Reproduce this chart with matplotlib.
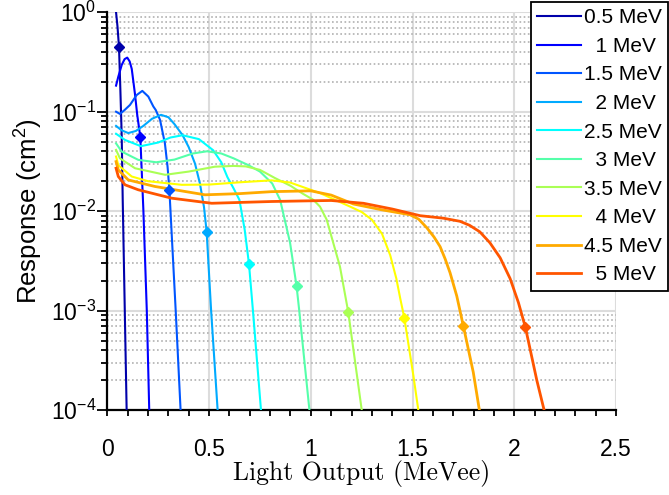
import matplotlib
matplotlib.use("Agg")
import matplotlib.pyplot as plt
from matplotlib.ticker import LogLocator, MultipleLocator, NullFormatter

plt.rcParams['font.family'] = ['Liberation Sans', 'DejaVu Sans']
plt.rcParams['mathtext.fontset'] = 'custom'
plt.rcParams['mathtext.rm'] = 'Liberation Sans'
plt.rcParams['mathtext.it'] = 'Liberation Sans:italic'

# neutron energies (MeV)
energies = [0.5, 1, 1.5, 2, 2.5, 3, 3.5, 4, 4.5, 5]
colors = ['#0000AA', '#0000FF', '#0055FF', '#00AAFF', '#00FFFF',
          '#55FFAA', '#AAFF55', '#FFFF00', '#FFAA00', '#FF5500']

# response curves: light output (MeVee), response (cm^2)
x_05 = [0.043, 0.050, 0.0575, 0.064, 0.0707, 0.0757, 0.095]
y_05 = [1.0, 0.72, 0.445, 0.17, 0.058, 0.013, 1e-4]

x_10 = [0.043, 0.054, 0.071, 0.085, 0.098, 0.110, 0.120, 0.136, 0.147, 0.162, 0.177, 0.194, 0.206]
y_10 = [0.183, 0.225, 0.296, 0.338, 0.35, 0.32, 0.27, 0.15, 0.093, 0.056, 0.0105, 0.001, 1e-4]

x_15 = [0.043, 0.062, 0.085, 0.1115, 0.144, 0.172, 0.2015, 0.226, 0.238, 0.259, 0.283, 0.296, 0.305, 0.336, 0.36]
y_15 = [0.1, 0.095, 0.104, 0.117, 0.147, 0.162, 0.142, 0.113, 0.104, 0.083, 0.048, 0.028, 0.0164, 0.001, 1e-4]

x_20 = [0.043, 0.07, 0.103, 0.14, 0.177, 0.22, 0.264, 0.30, 0.33, 0.37, 0.40, 0.431, 0.455, 0.475, 0.488, 0.51, 0.542]
y_20 = [0.072, 0.065, 0.061, 0.064, 0.072, 0.085, 0.093, 0.088, 0.075, 0.058, 0.044, 0.030, 0.019, 0.011, 0.00624, 0.001, 1e-4]

x_25 = [0.043, 0.087, 0.165, 0.25, 0.31, 0.37, 0.45, 0.52, 0.56, 0.59, 0.62, 0.649, 0.675, 0.696, 0.7155, 0.755]
y_25 = [0.06, 0.052, 0.045, 0.049, 0.055, 0.058, 0.053, 0.041, 0.031, 0.022, 0.017, 0.013, 0.0065, 0.00295, 0.001, 1e-4]

x_30 = [0.043, 0.071, 0.152, 0.24, 0.33, 0.42, 0.49, 0.56, 0.62, 0.693, 0.75, 0.81, 0.849, 0.898, 0.93, 0.943, 0.993]
y_30 = [0.048, 0.0397, 0.0328, 0.031, 0.033, 0.038, 0.040, 0.038, 0.034, 0.029, 0.025, 0.019, 0.013, 0.0048, 0.00175, 0.001, 1e-4]

x_35 = [0.043, 0.062, 0.136, 0.284, 0.40, 0.529, 0.62, 0.68, 0.75, 0.824, 0.90, 0.96, 1.012, 1.045, 1.078, 1.143, 1.184, 1.25]
y_35 = [0.0413, 0.034, 0.027, 0.0232, 0.025, 0.028, 0.0285, 0.0282, 0.026, 0.0215, 0.018, 0.015, 0.013, 0.0111, 0.0082, 0.00277, 0.00096, 1e-4]

x_40 = [0.043, 0.054, 0.12, 0.2, 0.366, 0.5, 0.65, 0.807, 0.898, 1.045, 1.193, 1.25, 1.30, 1.35, 1.39, 1.42, 1.44, 1.459, 1.504, 1.528]
y_40 = [0.0354, 0.029, 0.0223, 0.020, 0.0184, 0.0185, 0.0195, 0.0204, 0.0194, 0.0152, 0.0111, 0.0098, 0.0082, 0.0059, 0.0036, 0.0021, 0.0013, 0.00085, 0.00022, 1e-4]

x_45 = [0.043, 0.054, 0.103, 0.234, 0.48, 0.65, 0.807, 1.0, 1.1, 1.209, 1.35, 1.487, 1.53, 1.57, 1.605, 1.635, 1.66, 1.684, 1.717, 1.749, 1.798, 1.828]
y_45 = [0.0315, 0.026, 0.0206, 0.0177, 0.0146, 0.015, 0.0157, 0.016, 0.0145, 0.0118, 0.0103, 0.0092, 0.0083, 0.0068, 0.0055, 0.0044, 0.0033, 0.0024, 0.0014, 0.000703, 0.00024, 1e-4]

x_50 = [0.043, 0.054, 0.087, 0.152, 0.316, 0.513, 0.807, 0.996, 1.1, 1.258, 1.4, 1.537, 1.65, 1.733, 1.78, 1.83, 1.88, 1.93, 1.979, 2.02, 2.054, 2.11, 2.146]
y_50 = [0.027, 0.0223, 0.0184, 0.0164, 0.0135, 0.012, 0.0125, 0.0127, 0.0128, 0.012, 0.0105, 0.009, 0.0085, 0.0079, 0.0072, 0.0062, 0.0048, 0.0034, 0.0021, 0.0012, 0.00068, 0.0002, 1e-4]

curves_x = [x_05, x_10, x_15, x_20, x_25, x_30, x_35, x_40, x_45, x_50]
curves_y = [y_05, y_10, y_15, y_20, y_25, y_30, y_35, y_40, y_45, y_50]

# diamond markers on each curve
mark_x = [0.0575, 0.162, 0.305, 0.488, 0.696, 0.93, 1.184, 1.459, 1.749, 2.054]
mark_y = [0.445, 0.056, 0.0164, 0.00624, 0.00295, 0.00175, 0.00096, 0.00085, 0.000703, 0.00068]

fig = plt.figure(figsize=(6.69, 4.95), dpi=100)
ax = fig.add_axes([0.1604, 0.1717, 0.7606, 0.8035])

for i, e in enumerate(energies):
    lw = 1.5 if e < 4.5 else 2.0
    ax.plot(curves_x[i], curves_y[i], color=colors[i], lw=lw,
            label='%3g MeV' % e, zorder=3)
    ax.plot(mark_x[i], mark_y[i], marker='D', ms=5.5, color=colors[i],
            ls='none', zorder=4)

ax.set_yscale('log')
ax.set_xlim(0, 2.5)
ax.set_ylim(1e-4, 1)
ax.xaxis.set_major_locator(MultipleLocator(0.5))
ax.xaxis.set_minor_locator(MultipleLocator(0.1))
ax.yaxis.set_major_locator(LogLocator(base=10, numticks=10))
ax.yaxis.set_minor_locator(LogLocator(base=10, subs=range(2, 10), numticks=20))
ax.yaxis.set_minor_formatter(NullFormatter())
ax.xaxis.set_major_formatter(plt.FuncFormatter(lambda v, p: '%g' % v))

ax.set_axisbelow(True)
ax.grid(which='major', color='#dcdcdc', lw=1.5, ls='-')
ax.yaxis.grid(which='minor', color='#b0b0b0', lw=1.2, ls=(0, (1, 1.5)))

for s in ['top', 'right']:
    ax.spines[s].set_visible(False)
for s in ['left', 'bottom']:
    ax.spines[s].set_linewidth(1.6)

ax.tick_params(axis='both', which='both', direction='out', width=1.3, colors='black')
ax.tick_params(axis='x', which='both', length=4.5, pad=16, labelsize=16.5)
ax.tick_params(axis='y', which='major', length=7, pad=1, labelsize=16.5)
ax.tick_params(axis='y', which='minor', length=4.5)

ax.set_xlabel('Light Output (MeVee)', family='cmr10', fontsize=18.5, labelpad=-1)
ax.set_ylabel('Response (cm$^2$)', fontsize=18.5, labelpad=4)

leg = ax.legend(loc='upper right', bbox_to_anchor=(0.999, 0.996),
                bbox_transform=fig.transFigure, borderaxespad=0,
                fontsize=15, frameon=True, fancybox=False,
                handlelength=2.1, handletextpad=0.17, borderpad=0.3,
                labelspacing=0.46)
leg.get_frame().set_edgecolor('black')
leg.get_frame().set_linewidth(1.3)
leg.get_frame().set_alpha(1)

fig.savefig('out.png', dpi=100)
